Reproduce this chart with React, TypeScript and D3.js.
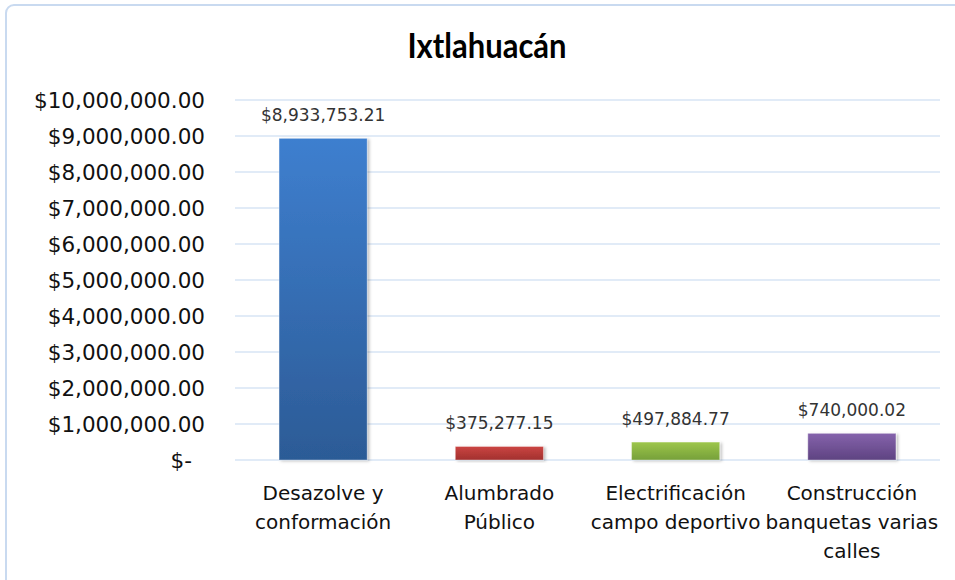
import React from "react";
import * as d3 from "d3";

const title = "Ixtlahuacán";
const categories = ["Desazolve y conformación", "Alumbrado Público", "Electrificación campo deportivo", "Construcción banquetas varias calles"];
const categoryLines = [
  ["Desazolve y", "conformación"],
  ["Alumbrado", "Público"],
  ["Electrificación", "campo deportivo"],
  ["Construcción", "banquetas varias", "calles"],
];
const values = [8933753.21, 375277.15, 497884.77, 740000.02];
const yTicks = [0, 1000000, 2000000, 3000000, 4000000, 5000000, 6000000, 7000000, 8000000, 9000000, 10000000];
const barColors = [
  ["#3e7fcf", "#2c5b96"],
  ["#cb4542", "#a2302e"],
  ["#9dc64a", "#76a03a"],
  ["#8563ac", "#5e4381"],
];

const W = 955;
const H = 580;
const FONT = "'DejaVu Sans', sans-serif";
const TITLE_FONT = "Lato, 'Open Sans', sans-serif";

export default function App() {
  const x = d3.scaleBand<string>().domain(categories).range([235, 940]).paddingInner(0.5).paddingOuter(0.25);
  const y = d3.scaleLinear().domain([0, 10000000]).range([460, 100]);
  const fmt = d3.format("$,.2f");
  const tickFmt = (v: number) => (v === 0 ? "$-" : fmt(v));

  return (
    <svg width={W} height={H} style={{ position: "absolute", left: 0, top: 0, background: "#fff" }} fontFamily={FONT}>
      <defs>
        {barColors.map((c, i) => (
          <linearGradient key={i} id={`g${i}`} x1="0" y1="0" x2="0" y2="1">
            <stop offset="0%" stopColor={c[0]} />
            <stop offset="100%" stopColor={c[1]} />
          </linearGradient>
        ))}
        <filter id="sh" x="-20%" y="-20%" width="140%" height="140%">
          <feDropShadow dx="2" dy="1" stdDeviation="1.5" floodColor="#000" floodOpacity="0.25" />
        </filter>
      </defs>
      <rect x={0} y={0} width={W} height={H} fill="#fff" />
      <rect x={6} y={5} width={980} height={620} rx={8} fill="#fff" stroke="#c9daf0" strokeWidth={2} />

      <text x={487} y={58} textAnchor="middle" fontFamily={TITLE_FONT} fontSize={34} fontWeight="bold" fill="#000" textLength={159} lengthAdjust="spacingAndGlyphs">
        {title}
      </text>

      {yTicks.map((t) => (
        <g key={t}>
          <line x1={235} x2={940} y1={y(t)} y2={y(t)} stroke="#d7e4f4" strokeWidth={1.5} />
          <text x={t === 0 ? 192 : 205} y={y(t)} dy="0.36em" textAnchor="end" fontSize={21.5} fill="#111">
            {tickFmt(t)}
          </text>
        </g>
      ))}

      {categories.map((c, i) => {
        const bx = x(c)!;
        const bw = x.bandwidth();
        const top = y(values[i]);
        return (
          <g key={c}>
            <rect x={bx} y={top} width={bw} height={y(0) - top} fill={`url(#g${i})`} stroke="#ffffff" strokeOpacity={0.35} strokeWidth={1} filter="url(#sh)" />
            <text x={bx + bw / 2} y={top - 17} textAnchor="middle" fontSize={17} fill="#333">
              {fmt(values[i])}
            </text>
            {categoryLines[i].map((ln, j) => (
              <text key={j} x={bx + bw / 2} y={500 + j * 29} textAnchor="middle" fontSize={20} fill="#111">
                {ln}
              </text>
            ))}
          </g>
        );
      })}
    </svg>
  );
}
